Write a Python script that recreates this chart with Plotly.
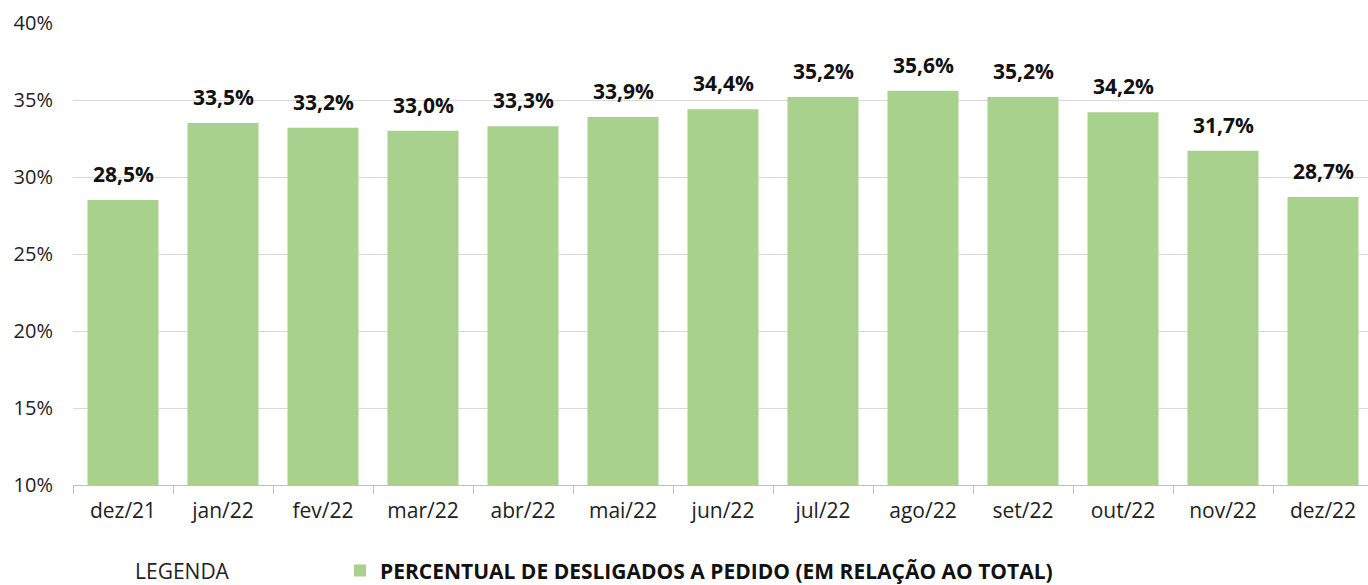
import plotly.graph_objects as go

categories = ["dez/21", "jan/22", "fev/22", "mar/22", "abr/22", "mai/22", "jun/22",
              "jul/22", "ago/22", "set/22", "out/22", "nov/22", "dez/22"]
values = [28.5, 33.5, 33.2, 33.0, 33.3, 33.9, 34.4, 35.2, 35.6, 35.2, 34.2, 31.7, 28.7]
series_name = "<b>PERCENTUAL DE DESLIGADOS A PEDIDO (EM RELAÇÃO AO TOTAL)</b>"

FONT = "Open Sans"
W = 1373  # plot area extends slightly past the visible window, as in the reference

fig = go.Figure()
fig.add_trace(go.Bar(
    x=categories, y=values, name=series_name,
    marker=dict(color="#a9d18e", line=dict(width=0)),
    showlegend=True,
))

annotations = [
    dict(x=c, y=v, xref="x", yref="y", text="<b>" + f"{v:.1f}".replace(".", ",") + "%</b>",
         showarrow=False, yanchor="bottom", xanchor="center", yshift=10,
         font=dict(family=FONT, size=21, color="#111111"))
    for c, v in zip(categories, values)
]
plot_w = W - 73
legend_y = -0.186
annotations.append(dict(
    text="LEGENDA", xref="paper", yref="paper", x=(182 - 73) / plot_w, y=legend_y,
    xanchor="center", yanchor="middle", showarrow=False,
    font=dict(family=FONT, size=21, color="#222222"),
))

fig.update_layout(
    width=W, height=585,
    margin=dict(l=73, r=0, t=23, b=100, autoexpand=False),
    plot_bgcolor="white", paper_bgcolor="white",
    bargap=0.29,
    font=dict(family=FONT, size=21, color="#222222"),
    xaxis=dict(
        automargin=False,
        showgrid=False, showline=True, linecolor="#bfbfbf", linewidth=1,
        ticks="outside", tickson="boundaries", ticklen=8, tickcolor="#bfbfbf",
        ticklabelstandoff=7,
        tickfont=dict(family=FONT, size=21, color="#222222"),
    ),
    yaxis=dict(
        automargin=False,
        range=[10, 40], dtick=5, ticksuffix="%",
        showgrid=True, gridcolor="#d9d9d9", gridwidth=1,
        zeroline=False, showline=False,
        ticklabelstandoff=19,
        tickfont=dict(family=FONT, size=20, color="#222222"),
    ),
    showlegend=True,
    legend=dict(
        orientation="h", x=(340 - 73) / plot_w, xanchor="left", y=legend_y, yanchor="middle",
        font=dict(family=FONT, size=21, color="#111111"),
        itemwidth=30, bgcolor="rgba(0,0,0,0)",
    ),
    annotations=annotations,
)

fig.write_html(
    "out.html",
    config={"displayModeBar": False},
    post_script="document.body.style.margin='0';document.body.style.overflow='hidden';",
)
